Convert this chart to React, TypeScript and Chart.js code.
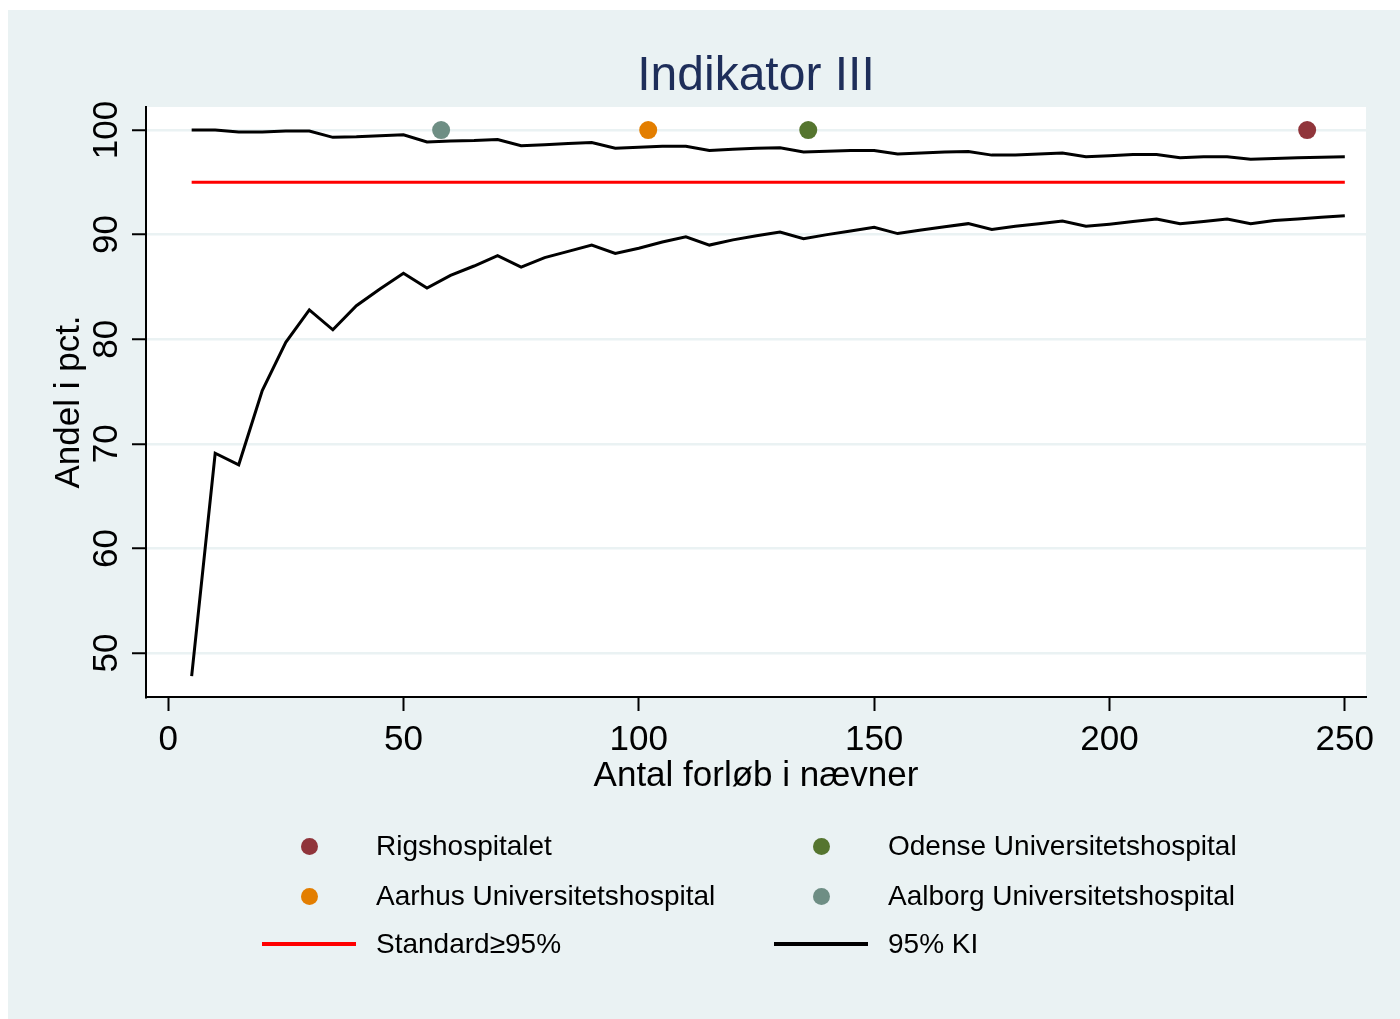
import React, { useEffect, useRef } from "react";
import { Chart, registerables } from "chart.js";

Chart.register(...registerables);

// ---------- data ----------
const nValues = [
  5, 10, 15, 20, 25, 30, 35, 40, 45, 50,
  55, 60, 65, 70, 75, 80, 85, 90, 95, 100,
  105, 110, 115, 120, 125, 130, 135, 140, 145, 150,
  155, 160, 165, 170, 175, 180, 185, 190, 195, 200,
  205, 210, 215, 220, 225, 230, 235, 240, 245, 250,
];
const upperCI = [
  100, 100, 99.8, 99.8, 99.9, 99.9, 99.3, 99.35, 99.45, 99.55,
  98.85, 98.95, 99.0, 99.1, 98.5, 98.6, 98.7, 98.8, 98.25, 98.35,
  98.45, 98.45, 98.05, 98.15, 98.25, 98.3, 97.9, 97.98, 98.05, 98.05,
  97.7, 97.8, 97.9, 97.95, 97.6, 97.6, 97.7, 97.8, 97.45, 97.55,
  97.65, 97.65, 97.35, 97.45, 97.45, 97.2, 97.27, 97.35, 97.4, 97.45,
];
const lowerCI = [
  47.8, 69.1, 68.0, 75.1, 79.7, 82.8, 80.9, 83.2, 84.8, 86.3,
  84.9, 86.1, 87.0, 88.0, 86.9, 87.8, 88.4, 89.0, 88.2, 88.7,
  89.3, 89.8, 89.0, 89.5, 89.9, 90.25, 89.6, 90.0, 90.35, 90.7,
  90.1, 90.45, 90.75, 91.05, 90.5, 90.8, 91.05, 91.3, 90.8, 91.0,
  91.25, 91.5, 91.05, 91.25, 91.5, 91.05, 91.35, 91.5, 91.65, 91.8,
];
const standardValue = 95;
const standardFrom = 5;
const standardTo = 250;

const hospitalNames = [
  "Rigshospitalet",
  "Aarhus Universitetshospital",
  "Odense Universitetshospital",
  "Aalborg Universitetshospital",
];
const hospitalN = [242, 102, 136, 58];
const hospitalPct = [100, 100, 100, 100];
const hospitalColors = ["#90353b", "#e37e00", "#55752f", "#6e8e84"];

const xTicks = [0, 50, 100, 150, 200, 250];
const yTicks = [50, 60, 70, 80, 90, 100];

const titleText = "Indikator III";
const xTitle = "Antal forløb i nævner";
const yTitle = "Andel i pct.";
const standardLabel = "Standard≥95%";
const ciLabel = "95% KI";

// ---------- styling ----------
const FONT = "'Liberation Sans', Arial, Helvetica, sans-serif";
const BG = "#eaf2f3";
const W = 1392;
const H = 1009;

const customPlugin = {
  id: "customDecor",
  beforeDraw(chart: any) {
    const { ctx, chartArea } = chart;
    ctx.save();
    ctx.fillStyle = "#ffffff";
    ctx.fillRect(
      chartArea.left,
      chartArea.top,
      chartArea.right - chartArea.left,
      chartArea.bottom - chartArea.top
    );
    ctx.restore();
  },
  afterDraw(chart: any) {
    const { ctx, chartArea } = chart;
    const ys = chart.scales.y;
    ctx.save();
    ctx.fillStyle = "#000";
    ctx.font = `35px ${FONT}`;
    ctx.textAlign = "center";
    ctx.textBaseline = "alphabetic";
    yTicks.forEach((v) => {
      const py = ys.getPixelForValue(v);
      ctx.save();
      ctx.translate(108.5, py);
      ctx.rotate(-Math.PI / 2);
      ctx.fillText(String(v), 0, 0);
      ctx.restore();
    });
    const cy = (chartArea.top + chartArea.bottom) / 2;
    ctx.save();
    ctx.translate(71, cy);
    ctx.rotate(-Math.PI / 2);
    ctx.fillText(yTitle, 0, 0);
    ctx.restore();
    ctx.restore();
  },
};

function ChartCanvas() {
  const ref = useRef<HTMLCanvasElement | null>(null);
  useEffect(() => {
    if (!ref.current) return;
    const upper = nValues.map((x, i) => ({ x, y: upperCI[i] }));
    const lower = nValues.map((x, i) => ({ x, y: lowerCI[i] }));
    const standard = [
      { x: standardFrom, y: standardValue },
      { x: standardTo, y: standardValue },
    ];
    const hospitalSets = hospitalNames.map((name, i) => ({
      label: name,
      data: [{ x: hospitalN[i], y: hospitalPct[i] }],
      showLine: false,
      pointRadius: 9,
      pointHoverRadius: 9,
      pointBackgroundColor: hospitalColors[i],
      pointBorderColor: hospitalColors[i],
      pointBorderWidth: 0,
      backgroundColor: hospitalColors[i],
      borderColor: hospitalColors[i],
    }));
    const chart = new Chart(ref.current, {
      type: "scatter",
      data: {
        datasets: [
          ...hospitalSets,
          {
            label: standardLabel,
            data: standard,
            showLine: true,
            borderColor: "#ff0000",
            borderWidth: 3,
            pointRadius: 0,
          },
          {
            label: ciLabel,
            data: upper,
            showLine: true,
            borderColor: "#000000",
            borderWidth: 3,
            pointRadius: 0,
          },
          {
            label: ciLabel + " (nedre)",
            data: lower,
            showLine: true,
            borderColor: "#000000",
            borderWidth: 3,
            pointRadius: 0,
          },
        ] as any,
      },
      options: {
        animation: false,
        responsive: false,
        maintainAspectRatio: false,
        events: [],
        layout: { padding: { left: 0, right: 34, top: 0, bottom: 222 } },
        plugins: {
          legend: { display: false },
          tooltip: { enabled: false },
          title: {
            display: true,
            text: titleText,
            fullSize: false,
            color: "#1e2e5a",
            font: { family: FONT, size: 48, weight: "normal" as any },
            padding: { top: 38, bottom: 1.4 },
          },
        },
        scales: {
          x: {
            type: "linear",
            min: -4.7,
            max: 254.5,
            afterFit: (s: any) => {
              s.height = 100;
            },
            afterBuildTicks: (s: any) => {
              s.ticks = xTicks.map((v) => ({ value: v }));
            },
            ticks: {
              color: "#000",
              font: { family: FONT, size: 35 },
              padding: 8,
              maxRotation: 0,
              minRotation: 0,
              callback: (v: any) => String(v),
            },
            grid: {
              drawOnChartArea: false,
              drawTicks: true,
              tickLength: 14,
              tickColor: "#000",
              tickWidth: 2,
            },
            border: { display: true, color: "#000", width: 2 },
            title: {
              display: true,
              text: xTitle,
              color: "#000",
              font: { family: FONT, size: 35 },
              padding: 0,
            },
          },
          y: {
            type: "linear",
            min: 45.8,
            max: 102.2,
            afterFit: (s: any) => {
              s.width = 138;
            },
            afterBuildTicks: (s: any) => {
              s.ticks = yTicks.map((v) => ({ value: v }));
            },
            ticks: { display: false },
            grid: {
              color: BG,
              lineWidth: 2.5,
              drawTicks: true,
              tickLength: 14,
              tickColor: "#000",
              tickWidth: 2,
            },
            border: { display: true, color: "#000", width: 2 },
          },
        },
      },
      plugins: [customPlugin],
    });
    return () => chart.destroy();
  }, []);
  return (
    <canvas
      ref={ref}
      width={W}
      height={H}
      style={{ position: "absolute", left: 0, top: 0, width: W, height: H }}
    />
  );
}

type LegendItem = { kind: "dot" | "line"; color: string; label: string };

const legendItems: LegendItem[] = [
  { kind: "dot", color: hospitalColors[0], label: hospitalNames[0] },
  { kind: "dot", color: hospitalColors[2], label: hospitalNames[2] },
  { kind: "dot", color: hospitalColors[1], label: hospitalNames[1] },
  { kind: "dot", color: hospitalColors[3], label: hospitalNames[3] },
  { kind: "line", color: "#ff0000", label: standardLabel },
  { kind: "line", color: "#000000", label: ciLabel },
];

const legendRowsY = [836, 886, 934]; // container coords of row centres
const legendColX = [0, 512];

function Legend() {
  return (
    <>
      {legendItems.map((it, i) => {
        const row = Math.floor(i / 2);
        const col = i % 2;
        const cy = legendRowsY[row];
        const ox = legendColX[col];
        return (
          <div
            key={i}
            style={{
              position: "absolute",
              left: ox + 250,
              top: cy - 16,
              height: 32,
              display: "flex",
              alignItems: "center",
              fontFamily: FONT,
              fontSize: 28,
              color: "#000",
              whiteSpace: "nowrap",
            }}
          >
            <div
              style={{
                width: 102,
                height: 32,
                position: "relative",
                flex: "none",
              }}
            >
              {it.kind === "dot" ? (
                <div
                  style={{
                    position: "absolute",
                    left: 51 - 8.5,
                    top: 16 - 8.5,
                    width: 17,
                    height: 17,
                    borderRadius: "50%",
                    background: it.color,
                  }}
                />
              ) : (
                <div
                  style={{
                    position: "absolute",
                    left: 4,
                    top: 14,
                    width: 94,
                    height: 3.5,
                    background: it.color,
                  }}
                />
              )}
            </div>
            <div style={{ marginLeft: 16, lineHeight: "32px" }}>{it.label}</div>
          </div>
        );
      })}
    </>
  );
}

export default function App() {
  return (
    <div
      style={{
        position: "absolute",
        left: 8,
        top: 10,
        width: W,
        height: H,
        background: BG,
        overflow: "hidden",
      }}
    >
      <ChartCanvas />
      <Legend />
    </div>
  );
}
